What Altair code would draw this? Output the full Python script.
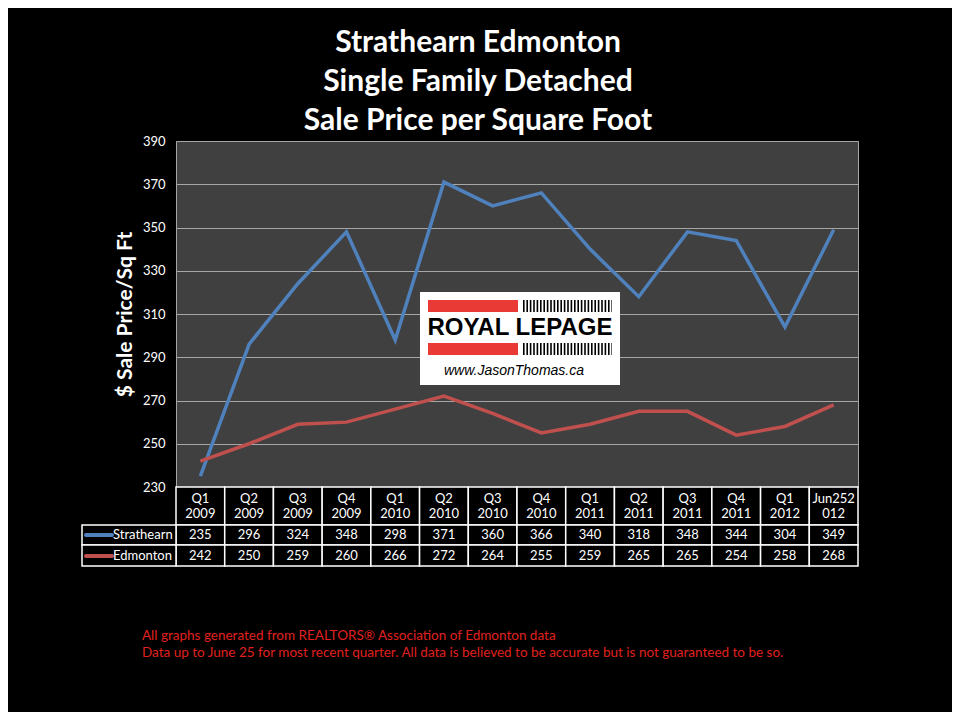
import altair as alt
import pandas as pd

# ---------------- data ----------------
q_top = ["Q1", "Q2", "Q3", "Q4", "Q1", "Q2", "Q3", "Q4", "Q1", "Q2", "Q3", "Q4", "Q1", "Jun252"]
q_bottom = ["2009", "2009", "2009", "2009", "2010", "2010", "2010", "2010",
            "2011", "2011", "2011", "2011", "2012", "012"]
strathearn = [235, 296, 324, 348, 298, 371, 360, 366, 340, 318, 348, 344, 304, 349]
edmonton = [242, 250, 259, 260, 266, 272, 264, 255, 259, 265, 265, 254, 258, 268]
series_names = ["Strathearn", "Edmonton"]
series_colors = ["#4F81BD", "#C0504D"]
y_ticks = [230, 250, 270, 290, 310, 330, 350, 370, 390]
title_lines = ["Strathearn Edmonton", "Single Family Detached", "Sale Price per Square Foot"]
y_title = "$ Sale Price/Sq Ft"
footer_lines = [
    "All graphs generated from REALTORS\u00ae Association of Edmonton data",
    "Data up to June 25  for most recent quarter. All data is believed to be accurate but is not guaranteed to be so.",
]
logo_name = ["ROYAL LEPAGE"]
logo_url = ["www.JasonThomas.ca"]

periods = [f"{a} {b}" for a, b in zip(q_top, q_bottom)]
wide = pd.DataFrame({"period": periods, "top": q_top, "bottom": q_bottom,
                     "Strathearn": strathearn, "Edmonton": edmonton})
long = wide.melt(id_vars=["period", "top", "bottom"], value_vars=series_names,
                 var_name="series", value_name="value")
labels_df = pd.DataFrame({"series": series_names})

FONT = "Lato"
W, H = 682, 346
x_band = alt.Scale(type="band", paddingInner=0, paddingOuter=0)


def X(center=True):
    if center:
        return alt.X("period:N", sort=periods, scale=x_band, axis=None, bandPosition=0.5)
    return alt.X("period:N", sort=periods, scale=x_band, axis=None)


y_enc = alt.Y("value:Q", scale=alt.Scale(domain=[230, 390], nice=False, zero=False),
              axis=alt.Axis(values=y_ticks, title=y_title, ticks=False, domain=False,
                            labelColor="white", labelFont=FONT, labelFontSize=13,
                            labelPadding=11, gridColor="#A6A6A6", gridWidth=1,
                            titleColor="white", titleFont=FONT, titleFontSize=21,
                            titleFontWeight="bold", titlePadding=7))

lines = alt.Chart(long).mark_line(strokeWidth=3.5).encode(
    x=X(), y=y_enc,
    color=alt.Color("series:N", scale=alt.Scale(domain=series_names, range=series_colors),
                    legend=None),
)

# ---------------- data table ----------------
row_bounds = [(346, 384), (384, 404), (404, 425)]
table_layers = []
for y0, y1 in row_bounds:
    table_layers.append(
        alt.Chart(wide).mark_rect(fill="black", stroke="white", strokeWidth=1.5).encode(
            x=X(False), y=alt.value(y0), y2=alt.value(y1)))
for (y0, y1) in row_bounds[1:]:
    table_layers.append(
        alt.Chart(labels_df.iloc[:1]).mark_rect(fill="black", stroke="white", strokeWidth=1.5).encode(
            x=alt.value(-94), x2=alt.value(0), y=alt.value(y0), y2=alt.value(y1)))

txt = dict(color="white", font=FONT, fontSize=13, baseline="middle", align="center")
table_layers.append(alt.Chart(wide).mark_text(**txt).encode(x=X(), y=alt.value(358), text="top:N"))
table_layers.append(alt.Chart(wide).mark_text(**txt).encode(x=X(), y=alt.value(373), text="bottom:N"))
row_centers = [394, 415]
for name, color, yc in zip(series_names, series_colors, row_centers):
    table_layers.append(
        alt.Chart(long[long.series == name]).mark_text(**txt).encode(
            x=X(), y=alt.value(yc), text="value:Q"))
    lab = labels_df[labels_df.series == name]
    table_layers.append(
        alt.Chart(lab).mark_rule(strokeWidth=4, strokeCap="round", color=color).encode(
            x=alt.value(-90), x2=alt.value(-64), y=alt.value(yc)))
    table_layers.append(
        alt.Chart(lab).mark_text(color="white", font=FONT, fontSize=13, baseline="middle",
                                 align="left").encode(
            x=alt.value(-63), y=alt.value(yc), text="series:N"))

# ---------------- logo ----------------
one = pd.DataFrame({"name": logo_name, "url": logo_url})
logo = [
    alt.Chart(one).mark_rect(fill="white").encode(
        x=alt.value(244), x2=alt.value(444), y=alt.value(151), y2=alt.value(244)),
    alt.Chart(one).mark_rect(fill="#EA3A35").encode(
        x=alt.value(252), x2=alt.value(342), y=alt.value(159), y2=alt.value(171)),
    alt.Chart(one).mark_rect(fill="#EA3A35").encode(
        x=alt.value(252), x2=alt.value(342), y=alt.value(202), y2=alt.value(214)),
    alt.Chart(one).mark_rule(color="black", strokeWidth=12, strokeDash=[1.6, 1.8]).encode(
        x=alt.value(347), x2=alt.value(436), y=alt.value(165)),
    alt.Chart(one).mark_rule(color="black", strokeWidth=12, strokeDash=[1.6, 1.8]).encode(
        x=alt.value(347), x2=alt.value(436), y=alt.value(208)),
    alt.Chart(one).mark_text(color="black", font="Liberation Sans", fontWeight="bold",
                             fontSize=24, baseline="middle", align="center").encode(
        x=alt.value(344), y=alt.value(187), text="name:N"),
    alt.Chart(one).mark_text(color="black", font="Liberation Sans", fontStyle="italic",
                             fontSize=14, baseline="middle", align="center").encode(
        x=alt.value(338), y=alt.value(230), text="url:N"),
]

# ---------------- footer ----------------
foot = pd.DataFrame({"t": footer_lines})
footer = [
    alt.Chart(foot.iloc[[i]]).mark_text(color="#E0201E", font=FONT, fontSize=13.5,
                                         baseline="middle", align="left").encode(
        x=alt.value(-34), y=alt.value(yy), text="t:N")
    for i, yy in enumerate([495, 512])
]

chart = alt.layer(lines, *table_layers, *logo, *footer).properties(
    width=W, height=H,
    padding={"left": 168, "top": 133, "right": 94, "bottom": 225},
    autosize=alt.AutoSizeParams(type="none"),
    title=alt.Title(text=title_lines, color="white", font=FONT, fontSize=30,
                    fontWeight="bold", lineHeight=39, anchor="middle", dx=-39, dy=7,
                    offset=6),
).configure(background="black").configure_view(fill="#404040", stroke="#A6A6A6", strokeWidth=1)

chart.save("out.html", embed_options={"renderer": "svg", "actions": False})
